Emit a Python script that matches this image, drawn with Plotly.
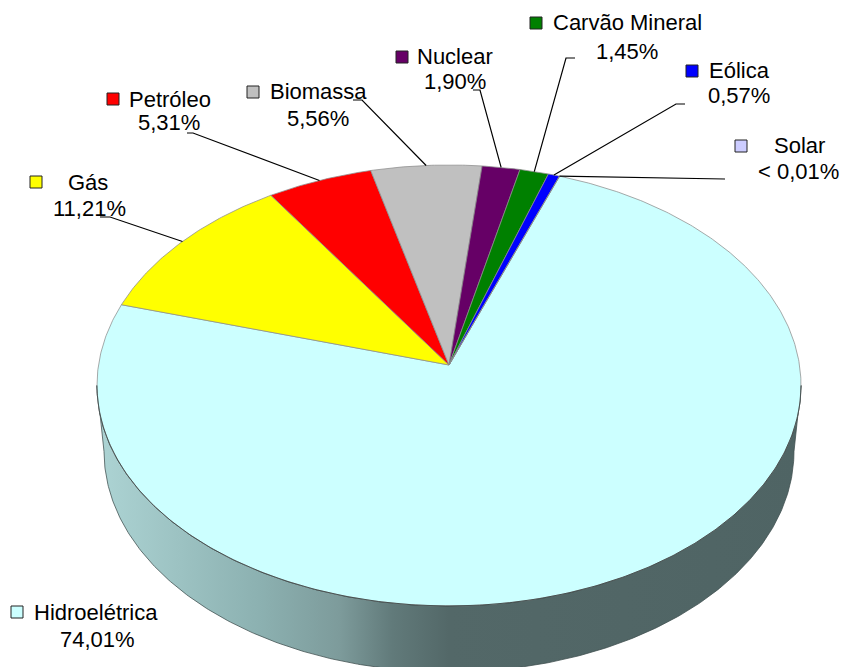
import math

import plotly.graph_objects as go

# energy matrix shares, clockwise from the first slice
SOURCES = ["Hidroelétrica", "Gás", "Petróleo", "Biomassa", "Nuclear", "Carvão Mineral", "Eólica", "Solar"]
SHARES = [74.01, 11.21, 5.31, 5.56, 1.90, 1.45, 0.57, 0.01]
SHARE_LABELS = ["74,01%", "11,21%", "5,31%", "5,56%", "1,90%", "1,45%", "0,57%", "< 0,01%"]
COLORS = ["#CCFFFF", "#FFFF00", "#FF0000", "#C0C0C0", "#660066", "#008000", "#0000FF", "#CCCCFF"]

WIDTH, HEIGHT = 842, 667
FONT = "Liberation Sans, Arial, sans-serif"

# pie projection, in page pixels
CX, CY = 449, 365
RX, RY = 350.5, 218.6
PERSPECTIVE = 0.093
DEPTH = 66
BASE_SCALE = 0.98  # lower rim is a bit narrower than the top face
START_ANGLE = 20.0

# where each label sits: key centre, name centre, value centre
KEY_POS = [(17, 612), (36, 182), (113, 99), (253, 92), (402, 57), (536, 23), (692, 71), (741, 146)]
NAME_POS = [(96, 612), (88, 182), (170, 99), (318, 91), (455, 56), (627, 22), (739, 70), (799, 145)]
VALUE_POS = [(97, 639), (89, 208), (169, 122), (318, 118), (455, 81), (627, 51), (739, 95), (798, 171)]
LEADER_ENDS = [
    None,
    [(110, 217), (100, 217)],
    [(193, 133), (187, 133)],
    [(362, 100), (353, 100)],
    [(480, 90), (473, 90)],
    [(566, 58), (575, 58)],
    [(676, 104), (685, 104)],
    [(725, 179)],
]


def project(angle: float) -> tuple[float, float]:
    # angle in degrees, clockwise from the top of the pie
    a = math.radians(angle)
    sx, sy = math.sin(a), math.cos(a)
    w = 1 + PERSPECTIVE * sy
    return CX + RX * sx / w, CY - RY * sy / w


def arc(a0: float, a1: float, step: float = 0.5) -> list[tuple[float, float]]:
    n = max(2, int(abs(a1 - a0) / step))
    return [project(a0 + (a1 - a0) * i / n) for i in range(n + 1)]


fig = go.Figure()

# rim of the pie, only the front part can be seen
edge = math.degrees(math.acos(-PERSPECTIVE))
front = arc(edge, 360 - edge)
lower = [(CX + (x - CX) * BASE_SCALE, y + DEPTH) for x, y in reversed(front)]
outline = front + lower + [front[0]]
fig.add_trace(
    go.Scatter(
        x=[p[0] for p in outline],
        y=[p[1] for p in outline],
        mode="lines",
        fill="toself",
        fillgradient=dict(
            type="horizontal",
            colorscale=[
                [0.0, "#ADD4D4"],
                [0.23, "#8CB1B1"],
                [0.345, "#7D9B9B"],
                [0.42, "#617A7A"],
                [0.5, "#536868"],
                [1.0, "#4F6464"],
            ],
        ),
        line=dict(color="#3C4C4C", width=0.75),
        hoverinfo="skip",
        showlegend=False,
    )
)

# slices
angle = START_ANGLE
mid_angles = []
for source, share, color in zip(SOURCES, SHARES, COLORS):
    sweep = share * 3.6
    mid_angles.append(angle + sweep / 2)
    points = [(CX, CY)] + arc(angle, angle + sweep) + [(CX, CY)]
    fig.add_trace(
        go.Scatter(
            x=[p[0] for p in points],
            y=[p[1] for p in points],
            mode="lines",
            fill="toself",
            fillcolor=color,
            line=dict(color="#8C8C8C", width=0.75),
            name=source,
            hoverinfo="name",
            showlegend=False,
        )
    )
    angle += sweep

# darker edge where the top face meets the rim
fig.add_trace(
    go.Scatter(
        x=[p[0] for p in front],
        y=[p[1] for p in front],
        mode="lines",
        line=dict(color="#2F3A3A", width=0.75),
        hoverinfo="skip",
        showlegend=False,
    )
)

# leader lines
for mid, ends in zip(mid_angles, LEADER_ENDS):
    if ends is None:
        continue
    points = [project(mid)] + ends
    fig.add_trace(
        go.Scatter(
            x=[p[0] for p in points],
            y=[p[1] for p in points],
            mode="lines",
            line=dict(color="#000000", width=1.2),
            hoverinfo="skip",
            showlegend=False,
        )
    )

# legend keys
fig.add_trace(
    go.Scatter(
        x=[p[0] for p in KEY_POS],
        y=[p[1] for p in KEY_POS],
        mode="markers",
        marker=dict(symbol="square", size=12, color=COLORS, line=dict(color="#222222", width=1)),
        hoverinfo="skip",
        showlegend=False,
    )
)

annotations = []
for text, pos in list(zip(SOURCES, NAME_POS)) + list(zip(SHARE_LABELS, VALUE_POS)):
    annotations.append(
        dict(
            x=pos[0],
            y=pos[1],
            text=text,
            showarrow=False,
            xanchor="center",
            yanchor="middle",
            font=dict(color="#000000", size=22, family=FONT),
        )
    )

fig.update_layout(
    width=WIDTH,
    height=HEIGHT,
    margin=dict(t=0, b=0, l=0, r=0),
    paper_bgcolor="#FFFFFF",
    plot_bgcolor="#FFFFFF",
    annotations=annotations,
)
fig.update_xaxes(range=[0, WIDTH], visible=False, fixedrange=True)
fig.update_yaxes(range=[HEIGHT, 0], visible=False, fixedrange=True)
# page margin would push the figure off the window
fig.write_html(
    "out.html",
    config=dict(displayModeBar=False),
    post_script="document.body.style.margin = '0'; document.body.style.overflow = 'hidden';",
)
